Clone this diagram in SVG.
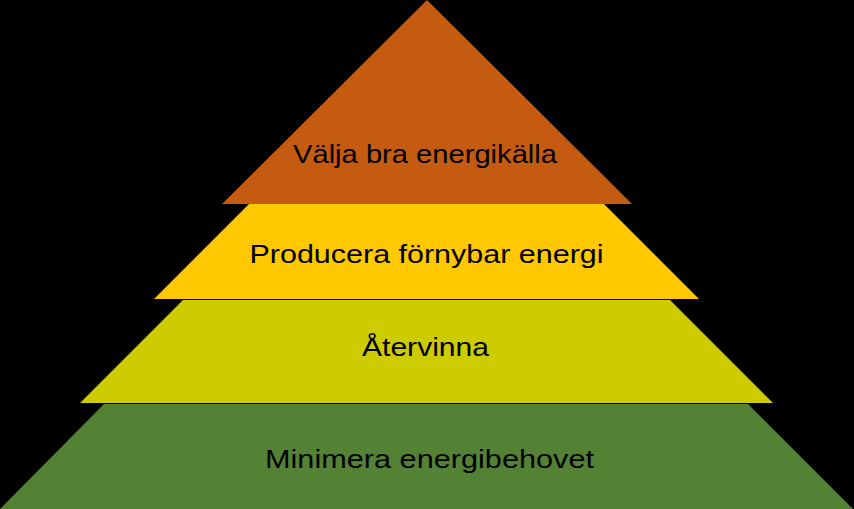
<svg xmlns="http://www.w3.org/2000/svg" width="854" height="509" viewBox="0 0 854 509">
  <style>
    .lbl { font-family: "Liberation Sans", Arial, sans-serif; font-size: 26px; fill: #000000; text-anchor: middle; }
  </style>
  <rect x="0" y="0" width="854" height="509" fill="#000000"/>
  <g id="layer-minimera">
    <polygon points="104,404 748,404 853,509 0,509" fill="#548235"/>
    <text class="lbl" x="429.5" y="468" textLength="329" lengthAdjust="spacingAndGlyphs">Minimera energibehovet</text>
  </g>
  <g id="layer-atervinna">
    <polygon points="183,300 670,300 773,403 80,403" fill="#CCCC00"/>
    <text class="lbl" x="425.5" y="356" textLength="127" lengthAdjust="spacingAndGlyphs">Återvinna</text>
  </g>
  <g id="layer-producera">
    <polygon points="249,204 604,204 699,299 154,299" fill="#FFC800"/>
    <text class="lbl" x="426.5" y="263" textLength="354" lengthAdjust="spacingAndGlyphs">Producera förnybar energi</text>
  </g>
  <g id="layer-valja">
    <polygon points="427,0 632,204 222,204" fill="#C55A11"/>
    <text class="lbl" x="425" y="163" textLength="264" lengthAdjust="spacingAndGlyphs">Välja bra energikälla</text>
  </g>
</svg>
